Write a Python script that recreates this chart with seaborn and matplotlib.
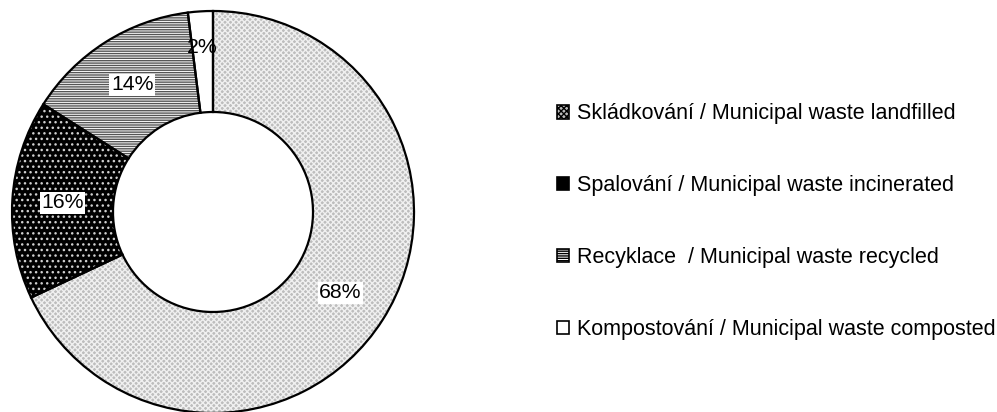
import matplotlib
matplotlib.use("Agg")
import matplotlib.pyplot as plt
import seaborn as sns
import numpy as np
from matplotlib.patches import Patch

categories = [
    "Skládkování / Municipal waste landfilled",
    "Spalování / Municipal waste incinerated",
    "Recyklace  / Municipal waste recycled",
    "Kompostování / Municipal waste composted",
]
values = [68, 16, 14, 2]
pct_labels = ["68%", "16%", "14%", "2%"]

sns.set_theme(style="white")
plt.rcParams["font.family"] = ["Liberation Sans", "DejaVu Sans"]
plt.rcParams["hatch.linewidth"] = 1.0
plt.rcParams["text.color"] = "black"

faces = ["#bdbdbd", "#000000", "#ffffff", "#ffffff"]
hatch_cols = ["#f0f0f0", "#cfcfcf", "#555555", "#ffffff"]
hatches = ["xxxxxx", "...", "-------", ""]

W, H = 997, 412
fig = plt.figure(figsize=(W / 100, H / 100), dpi=100)
cx, cy, R = 213, 212, 201
ax = fig.add_axes([(cx - R) / W, (H - cy - R) / H, 2 * R / W, 2 * R / H])
ax.axis("off")

inner = 100 / 201
width = 1 - inner

# patterned fill layer
wedges, _ = ax.pie(values, startangle=90, counterclock=False, radius=1,
                   wedgeprops=dict(width=width, linewidth=0))
for w, fc, hc, h in zip(wedges, faces, hatch_cols, hatches):
    w.set_facecolor(fc)
    w.set_edgecolor(hc)
    w.set_hatch(h)

# outline layer
ax.pie(values, startangle=90, counterclock=False, radius=1,
       wedgeprops=dict(width=width, linewidth=1.6, edgecolor="black", fill=False))
ax.set_xlim(-1.0, 1.0)
ax.set_ylim(-1.0, 1.0)
ax.set_aspect("equal")

# percentage labels
cum = np.cumsum([0] + values[:-1])
total = sum(values)
dists = [0.75, 0.75, 0.75, 0.82]
for v, c, lab, d in zip(values, cum, pct_labels, dists):
    ang = np.deg2rad(90 - (c + v / 2) / total * 360)
    ax.text(d * np.cos(ang), d * np.sin(ang), lab, ha="center", va="center",
            fontsize=15.3, color="black",
            bbox=dict(facecolor="white", edgecolor="none", pad=1.0) if lab != "2%" else None)

# legend
handles = []
for fc, hc, h in zip(faces, hatch_cols, hatches):
    handles.append(Patch(facecolor=fc, edgecolor="black", hatch=h, linewidth=1.2))
leg = fig.legend(handles, categories, loc="center left",
                 bbox_to_anchor=(557 / W, 0.462), frameon=False,
                 fontsize=15.5, labelspacing=2.36, handlelength=0.58,
                 handleheight=0.58, handletextpad=0.36, borderaxespad=0, borderpad=0)
for t in leg.get_texts():
    t.set_color("black")

fig.savefig("out.png", dpi=100, facecolor="white")
